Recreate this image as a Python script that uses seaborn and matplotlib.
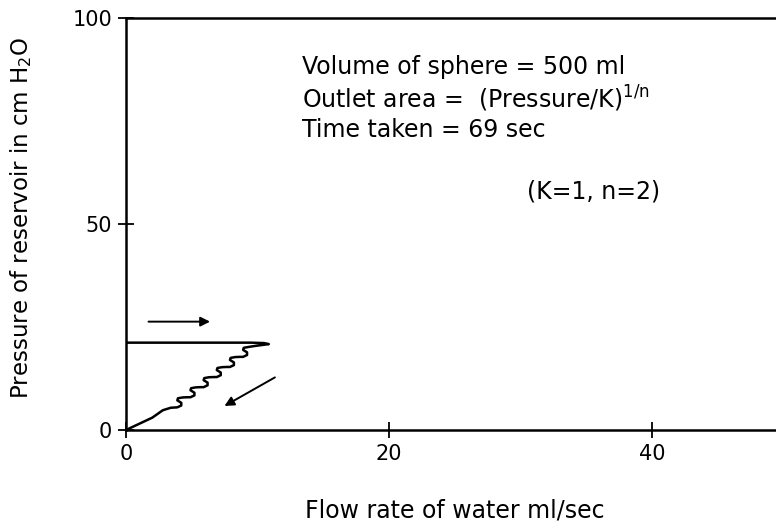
import matplotlib
matplotlib.use("Agg")
import matplotlib.pyplot as plt
import pandas as pd
import seaborn as sns

# flow rate (ml/sec) and reservoir pressure (cm H2O)
flow = [0.0, 1.0, 2.0, 2.8, 3.4, 3.9,
        4.2, 4.2, 3.9, 3.95, 4.3, 4.65, 4.9,
        5.2, 5.2, 4.9, 4.95, 5.3, 5.65, 5.9,
        6.2, 6.2, 5.9, 5.95, 6.3, 6.65, 6.9,
        7.2, 7.2, 6.9, 6.95, 7.3, 7.65, 7.9,
        8.2, 8.2, 7.9, 7.95, 8.3, 8.65, 8.9,
        9.2, 9.2, 8.9, 8.95, 9.3, 9.8, 10.4, 10.85, 10.5, 9.5, 0.0]
pressure = [0.0, 1.5, 3.0, 4.8, 5.4, 5.5,
            5.95, 6.6, 7.2, 7.7, 7.9, 7.95, 7.95,
            8.4, 9.05, 9.65, 10.15, 10.35, 10.4, 10.4,
            10.85, 11.5, 12.1, 12.6, 12.8, 12.85, 12.85,
            13.3, 13.95, 14.55, 15.05, 15.25, 15.3, 15.3,
            15.75, 16.4, 17.0, 17.5, 17.7, 17.75, 17.75,
            18.2, 18.85, 19.45, 19.95, 20.15, 20.4, 20.65, 20.85, 21.1, 21.2, 21.2]

x_ticks = [0, 20, 40]
y_ticks = [0, 50, 100]

notes = ["Volume of sphere = 500 ml",
         r"Outlet area =  (Pressure/K)$^{\mathrm{1/n}}$",
         "Time taken = 69 sec"]
params_note = "(K=1, n=2)"

df = pd.DataFrame({"flow": flow, "pressure": pressure})

sns.set_theme(style="white")
plt.rcParams['font.family'] = ['DejaVu Sans']
plt.rcParams['text.color'] = 'black'
plt.rcParams['axes.labelcolor'] = 'black'

fig = plt.figure(figsize=(7.76, 5.32), dpi=100)
ax = fig.add_axes([126 / 776, 102 / 532, 650 / 776, 412 / 532])

sns.lineplot(data=df, x="flow", y="pressure", sort=False, estimator=None,
             color="black", linewidth=1.8, ax=ax)
ax.lines[0].set_solid_joinstyle("round")

# direction arrows
ax.annotate("", xy=(6.6, 26.3), xytext=(1.5, 26.3),
            arrowprops=dict(arrowstyle="-|>", color="black", lw=1.4, mutation_scale=14))
ax.annotate("", xy=(7.3, 5.5), xytext=(11.5, 13.1),
            arrowprops=dict(arrowstyle="-|>", color="black", lw=1.4, mutation_scale=14))

ax.set_xlim(0, 49.4)
ax.set_ylim(0, 100)
ax.set_xticks(x_ticks)
ax.set_yticks(y_ticks)
ax.tick_params(direction="inout", length=12, width=1.3, labelsize=15, pad=4,
               bottom=True, left=True, colors="black")

for side in ["left", "bottom", "top"]:
    ax.spines[side].set_color("black")
    ax.spines[side].set_linewidth(1.8)
ax.spines["right"].set_visible(False)

ax.set_xlabel("Flow rate of water ml/sec", fontsize=17)
ax.set_ylabel("Pressure of reservoir in cm H$_2$O", fontsize=16.5)
ax.xaxis.set_label_coords(0.506, -0.166)
ax.yaxis.set_label_coords(-0.142, 0.515)

for i, txt in enumerate(notes):
    ax.text(13.4, 88.1 - 7.7 * i, txt, fontsize=17, va="center", ha="left")
ax.text(30.5, 57.8, params_note, fontsize=17, va="center", ha="left")

fig.savefig("out.png", dpi=100)
